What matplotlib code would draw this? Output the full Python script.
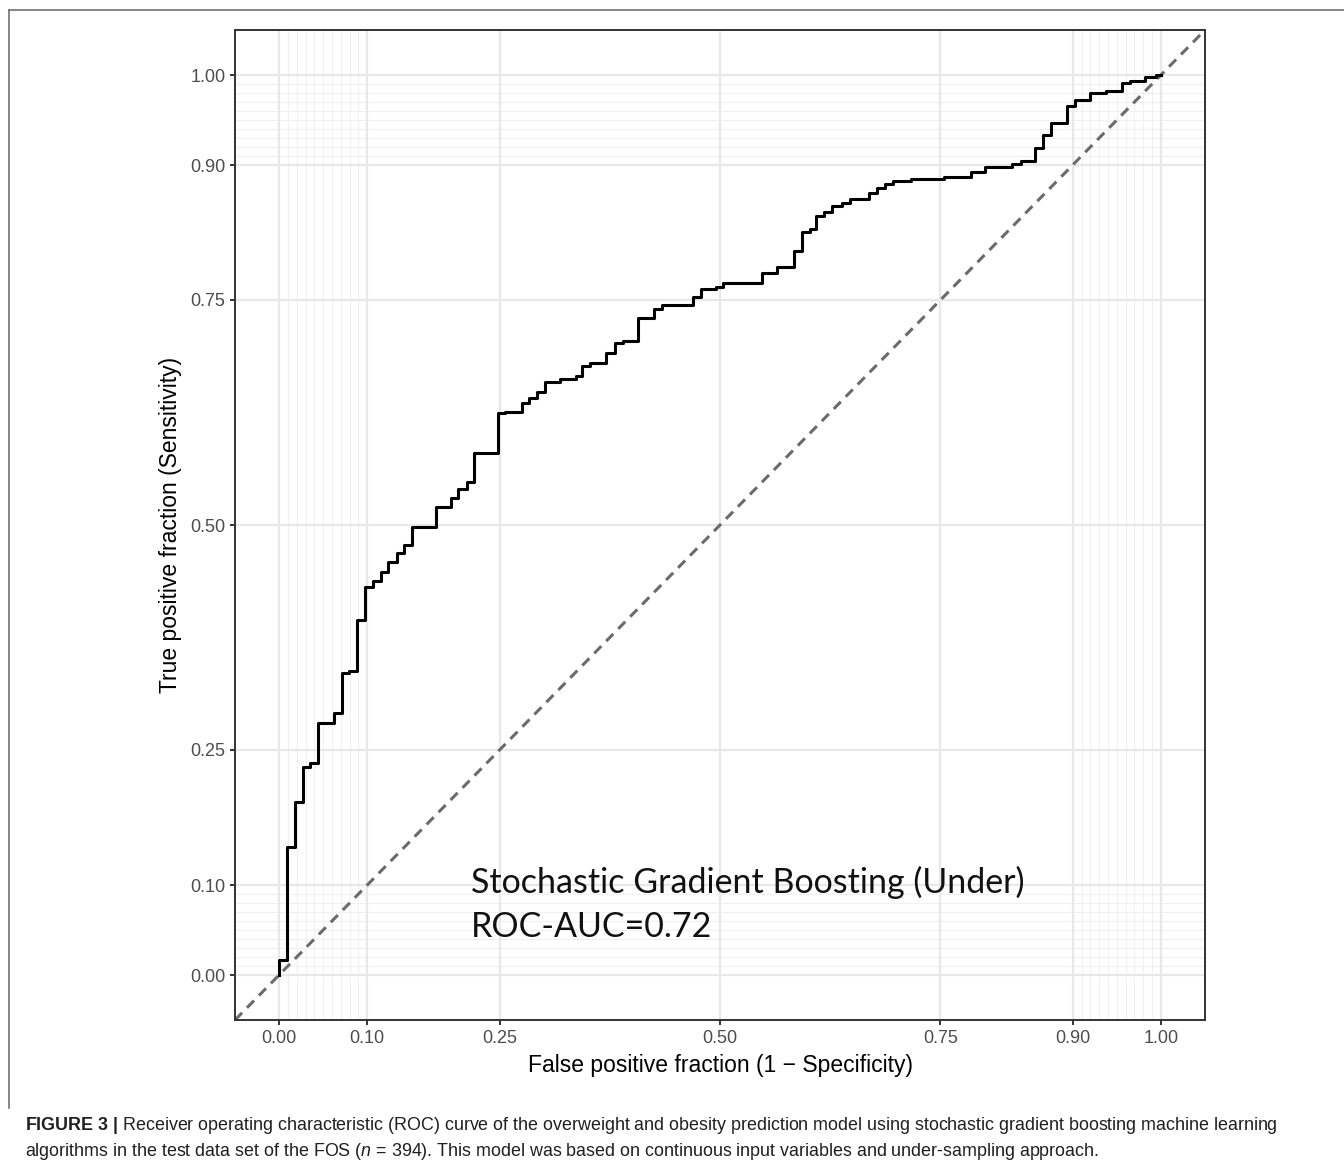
import matplotlib
matplotlib.use("Agg")
import matplotlib.pyplot as plt
from matplotlib.lines import Line2D

# ROC curve: fpr where the curve steps up, tpr reached after that step
fpr = [0.0, 0.009, 0.018, 0.027, 0.035, 0.044, 0.062, 0.071, 0.079, 0.088,
       0.097, 0.106, 0.116, 0.123, 0.134, 0.142, 0.151, 0.178, 0.195, 0.203,
       0.213, 0.221, 0.248, 0.256, 0.275, 0.283, 0.292, 0.301, 0.318, 0.337,
       0.344, 0.353, 0.371, 0.381, 0.390, 0.407, 0.425, 0.434, 0.469, 0.478,
       0.495, 0.503, 0.548, 0.565, 0.584, 0.593, 0.602, 0.609, 0.618, 0.627,
       0.638, 0.647, 0.669, 0.678, 0.687, 0.696, 0.717, 0.754, 0.785, 0.800,
       0.831, 0.841, 0.857, 0.866, 0.875, 0.894, 0.903, 0.920, 0.938, 0.956,
       0.965, 0.982, 0.994, 1.000]
tpr = [0.017, 0.142, 0.192, 0.231, 0.236, 0.280, 0.291, 0.336, 0.338, 0.394,
       0.431, 0.438, 0.448, 0.459, 0.469, 0.478, 0.498, 0.520, 0.530, 0.540,
       0.548, 0.580, 0.624, 0.626, 0.636, 0.641, 0.648, 0.659, 0.662, 0.666,
       0.677, 0.680, 0.691, 0.702, 0.704, 0.730, 0.740, 0.744, 0.753, 0.762,
       0.764, 0.769, 0.780, 0.787, 0.804, 0.826, 0.829, 0.843, 0.848, 0.854,
       0.858, 0.862, 0.869, 0.874, 0.879, 0.882, 0.884, 0.887, 0.892, 0.898,
       0.901, 0.904, 0.919, 0.933, 0.947, 0.966, 0.972, 0.980, 0.982, 0.991,
       0.993, 0.998, 1.000, 1.000]

breaks = [0.0, 0.10, 0.25, 0.50, 0.75, 0.90, 1.00]
break_labels = ["0.00", "0.10", "0.25", "0.50", "0.75", "0.90", "1.00"]
minor_breaks = [i / 100 for i in range(1, 10)] + [0.9 + i / 100 for i in range(1, 10)]

model_name = "Stochastic Gradient Boosting (Under)"
auc_label = "ROC-AUC=0.72"
xlab = "False positive fraction (1 \u2212 Specificity)"
ylab = "True positive fraction (Sensitivity)"
caption1 = (r"$\bf{FIGURE\ 3\ |}$ Receiver operating characteristic (ROC) curve of the overweight "
            "and obesity prediction model using stochastic gradient boosting machine learning")
caption2 = (r"algorithms in the test data set of the FOS ($\it{n}$ = 394). This model was based on "
            "continuous input variables and under-sampling approach.")

plt.rcParams['font.family'] = 'Liberation Sans'
plt.rcParams['mathtext.fontset'] = 'custom'
plt.rcParams['mathtext.rm'] = 'Liberation Sans'
plt.rcParams['mathtext.it'] = 'Liberation Sans:italic'
plt.rcParams['mathtext.bf'] = 'Liberation Sans:bold'

W, H = 1344, 1163
fig = plt.figure(figsize=(W / 100, H / 100), dpi=100)
ax = fig.add_axes([235 / W, 1 - 1020 / H, 970 / W, 990 / H])
ax.set_xlim(-0.05, 1.05)
ax.set_ylim(-0.05, 1.05)

# grid
for v in minor_breaks:
    ax.axvline(v, color='#F0F0F0', lw=0.8, zorder=0)
    ax.axhline(v, color='#F0F0F0', lw=0.8, zorder=0)
for v in breaks:
    ax.axvline(v, color='#E8E8E8', lw=1.6, zorder=0.5)
    ax.axhline(v, color='#E8E8E8', lw=1.6, zorder=0.5)

# chance line and ROC curve
ax.axline((0, 0), slope=1, color='#6b6b6b', lw=2.2, ls=(0, (3.3, 2.3)), zorder=2)
ax.step([0.0] + fpr, [0.0] + tpr, where='post', color='black', lw=2.2, zorder=3)

ax.set_xticks(breaks, break_labels)
ax.set_yticks(breaks, break_labels)
ax.tick_params(length=3.6, width=1.4, color='#333333', labelcolor='#4D4D4D',
               labelsize=13, pad=3.4)
for sp in ax.spines.values():
    sp.set_color('#333333')
    sp.set_linewidth(1.4)

fig.text(721 / W, 1 - 1072 / H, xlab, fontsize=16.5, ha='center', va='baseline')
fig.text(170 / W, 1 - 525 / H, ylab, fontsize=16.5, ha='center', va='center', rotation=90)

ax.text(0.2175, 0.091, model_name, family='Lato', fontsize=24.5, va='baseline', color='#111111')
ax.text(0.2175, 0.042, auc_label, family='Lato', fontsize=24.5, va='baseline', color='#111111')

# page frame (top and left rules)
fig.add_artist(Line2D([9 / W, 1], [1 - 10 / H, 1 - 10 / H], transform=fig.transFigure,
                      color='#666666', lw=1.1))
fig.add_artist(Line2D([9 / W, 9 / W], [1 - 10 / H, 1 - 1108 / H], transform=fig.transFigure,
                      color='#666666', lw=1.1))

fig.text(25 / W, 1 - 1130 / H, caption1, fontsize=12.9, color='#231f20', va='baseline')
fig.text(25 / W, 1 - 1156 / H, caption2, fontsize=12.9, color='#231f20', va='baseline')

fig.savefig('out.png', dpi=100)
